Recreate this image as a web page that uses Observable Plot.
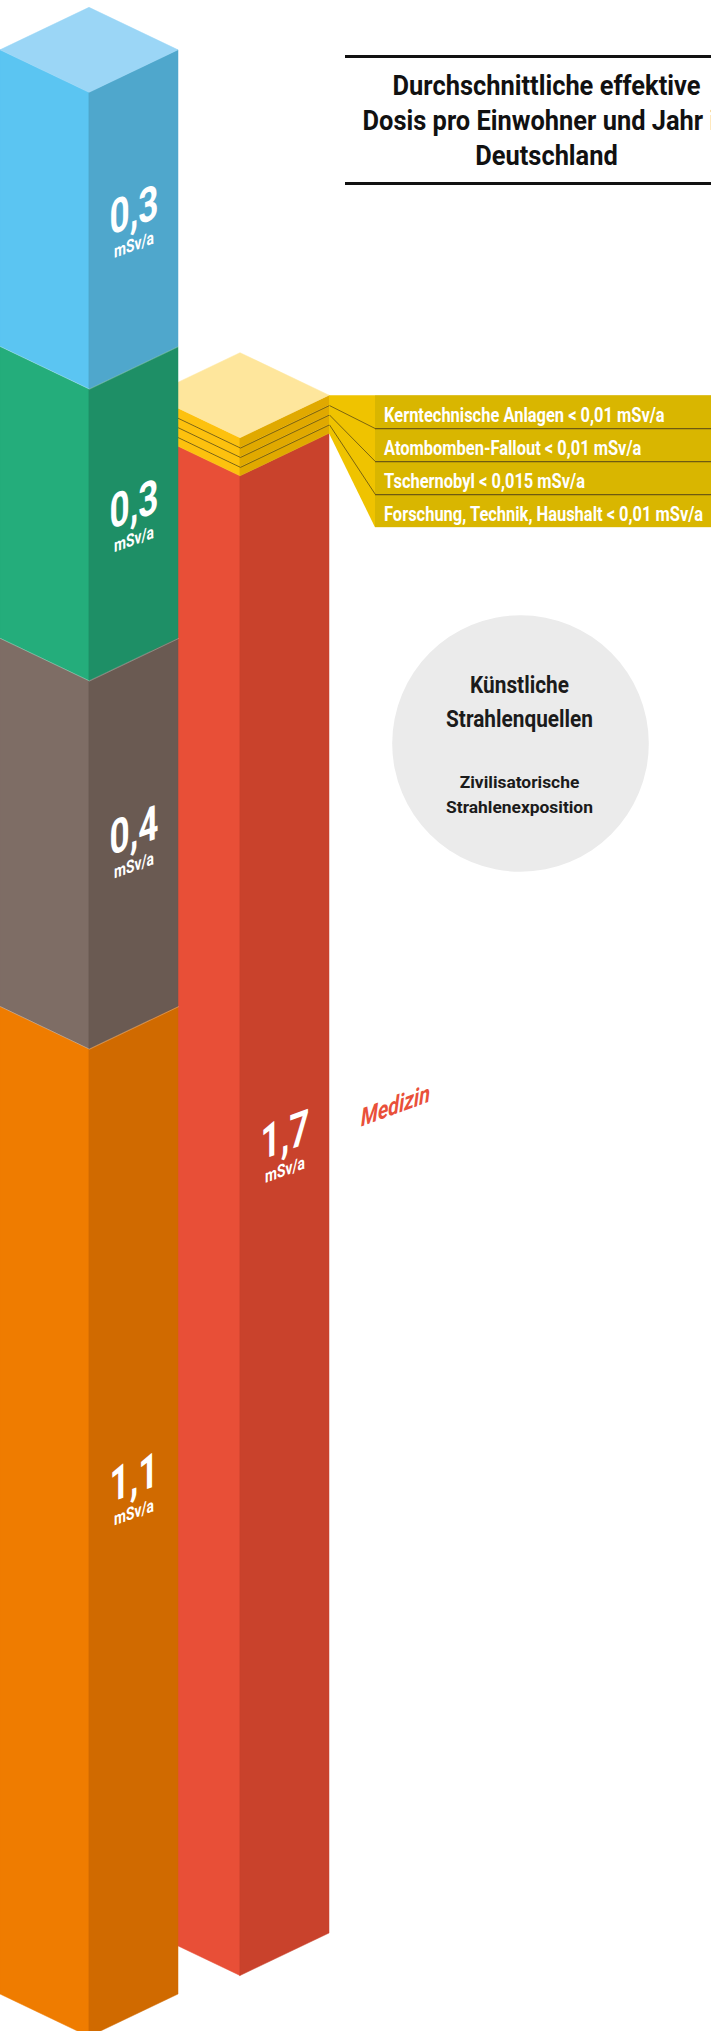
<!DOCTYPE html>
<html>
<head>
<meta charset="utf-8">
<script src="https://cdn.jsdelivr.net/npm/d3@7"></script>
<script src="https://cdn.jsdelivr.net/npm/@observablehq/plot@0.6"></script>
<style>
  html, body { margin: 0; padding: 0; overflow: hidden; background: #ffffff; }
  #chart svg { display: block; }
</style>
</head>
<body>
<div id="chart"></div>
<script>
// ---------------- DATA ----------------
// natural sources, left column, bottom -> top
const naturalSources = ["Radon", "Terrestrische Strahlung", "Nahrung", "Kosmische Strahlung"];
const naturalValues  = [1.10, 0.41, 0.325, 0.33];
const naturalLabels  = ["1,1", "0,4", "0,3", "0,3"];

// artificial sources, right column
const medicalSources = ["Medizin"];
const medicalValues  = [1.67];
const medicalLabels  = ["1,7"];

// thin layers on top of the medical column, bottom -> top
const minorSources = ["Forschung, Technik, Haushalt", "Tschernobyl", "Atombomben-Fallout", "Kerntechnische Anlagen"];
const minorValues  = [0.010, 0.011, 0.0105, 0.011];
const minorLimits  = ["< 0,01 mSv/a", "< 0,015 mSv/a", "< 0,01 mSv/a", "< 0,01 mSv/a"];

const unitLabel      = "mSv/a";
const titleLines     = ["Durchschnittliche effektive", "Dosis pro Einwohner und Jahr in", "Deutschland"];
const circleTitle    = ["Künstliche", "Strahlenquellen"];
const circleSubtitle = ["Zivilisatorische", "Strahlenexposition"];

// ---------------- STYLE / LAYOUT ----------------
const W = 711, H = 2031;
const PX_PER_MSV = 898;     // vertical scale
const BASE_PX = 1994;       // screen y of the front column base (side corners)
const HALF_W = 89, HALF_H = 42.5; // isometric half-width / half-height of a column
const leftCenter = 89, rightCenter = 240;
const backLiftPx = 61;      // the back column stands higher on screen
const FONT = "Roboto, 'Noto Sans', 'DejaVu Sans', sans-serif";
const naturalLeft  = ["#ef7c00", "#7e6d65", "#24ad7b", "#5bc5f2"];
const naturalRight = ["#d06a00", "#6a5a52", "#1e8f66", "#4fa7cc"];
const naturalTop = "#9bd6f6";
const medLeft = "#e84f37", medRight = "#c9422c";
const yLeft = "#fdc10e", yRight = "#e0a900", yTop = "#fee69c";
const leaderFill = "#efc300", boxFill = "#d9b600", lineColor = "#6e5a12";
const BOX_X = 375, ROW_H = 33;

const v  = px => px / PX_PER_MSV;               // pixel length -> value length
const pv = px => (BASE_PX - px) / PX_PER_MSV;    // screen y -> value
const hv = v(HALF_H);

// ---------------- GEOMETRY FROM DATA ----------------
function stack(values, base) {
  let c = base;
  return values.map(val => { const s = {v0: c, v1: c + val}; c += val; return s; });
}
function faceRows(prefix, xc, segs, lefts, rights) {
  const rows = [];
  segs.forEach((s, i) => {
    rows.push({id: prefix + i + "L", x: xc - HALF_W, y1: s.v0, y2: s.v1, fill: lefts[i]});
    rows.push({id: prefix + i + "L", x: xc, y1: s.v0 - hv, y2: s.v1 - hv, fill: lefts[i]});
    rows.push({id: prefix + i + "R", x: xc, y1: s.v0 - hv, y2: s.v1 - hv, fill: rights[i]});
    rows.push({id: prefix + i + "R", x: xc + HALF_W, y1: s.v0, y2: s.v1, fill: rights[i]});
  });
  return rows;
}
function topRows(id, xc, T, fill) {
  return [
    {id, x: xc - HALF_W, y1: T, y2: T, fill},
    {id, x: xc, y1: T - hv, y2: T + hv, fill},
    {id, x: xc + HALF_W, y1: T, y2: T, fill}
  ];
}

// front column (natural)
const segA = stack(naturalValues, 0);
const topA = segA[segA.length - 1].v1;
const facesA = faceRows("A", leftCenter, segA, naturalLeft, naturalRight)
  .concat(topRows("Atop", leftCenter, topA, naturalTop));
const seamsA = segA.slice(1).flatMap((s, i) => [
  {id: "s" + i, x: leftCenter - HALF_W, y: s.v0},
  {id: "s" + i, x: leftCenter, y: s.v0 - hv},
  {id: "s" + i, x: leftCenter + HALF_W, y: s.v0}
]);

// back column (medical + minor layers)
const baseB = v(backLiftPx);
const segMed = stack(medicalValues, baseB);
const medTop = segMed[segMed.length - 1].v1;
const segMinor = stack(minorValues, medTop);
const topB = segMinor[segMinor.length - 1].v1;
const facesB = faceRows("M", rightCenter, segMed, [medLeft], [medRight])
  .concat(faceRows("Y", rightCenter, segMinor, minorValues.map(() => yLeft), minorValues.map(() => yRight)))
  .concat(topRows("Btop", rightCenter, topB, yTop));
const layerLines = segMinor.slice(1).flatMap((s, i) => [
  {id: "l" + i, x: rightCenter - HALF_W, y: s.v0},
  {id: "l" + i, x: rightCenter, y: s.v0 - hv},
  {id: "l" + i, x: rightCenter + HALF_W, y: s.v0}
]);

// label box for minor layers (rows top -> bottom)
const nRows = minorSources.length;
const boxTop = topB, boxBottom = topB - v(ROW_H * nRows);
const leader = [
  {x: rightCenter + HALF_W, y1: medTop, y2: topB},
  {x: BOX_X, y1: boxBottom, y2: topB}
];
const rowLabels = minorSources.map((s, i) => ({s, text: s + " " + minorLimits[i]})).reverse()
  .map((d, r) => ({x: BOX_X + 8.5, y: boxTop - v(ROW_H * (r + 0.5)) - v(3), text: d.text}));
const rowSeps = d3.range(1, nRows).map(r => ({y: boxTop - v(ROW_H * r)}));
// leader lines: layer boundary (top layer first) -> row separator
const leaderLines = segMinor.slice(1).reverse().map((s, r) => ({
  x1: rightCenter + HALF_W, y1: s.v0, x2: BOX_X, y2: boxTop - v(ROW_H * (r + 1))
}));

// value labels on the right faces
const LABEL_FRAC = 0.45, LABEL_PAD = 6, UNIT_GAP = 34;
function valueLabel(xc, s, text) {
  const y = (s.v1 - hv / 2) - v(LABEL_PAD) - LABEL_FRAC * (s.v1 - s.v0);
  return {x: xc + HALF_W / 2, y, text};
}
const valueLabels = segA.map((s, i) => valueLabel(leftCenter, s, naturalLabels[i]))
  .concat(segMed.map((s, i) => valueLabel(rightCenter, s, medicalLabels[i])));
const unitLabels = valueLabels.map(d => ({x: d.x, y: d.y - v(UNIT_GAP), text: unitLabel}));
const medLabel = [{x: rightCenter + HALF_W + 66, y: valueLabels[valueLabels.length - 1].y + v(30), text: medicalSources[0]}];

// title + circle
const titleRows = titleLines.map((t, i) => ({x: 546, y: pv(86 + 35 * i), text: t}));
const circleRows = [
  {x: 519, y: pv(685), text: circleTitle[0], g: "big"},
  {x: 519, y: pv(718.5), text: circleTitle[1], g: "big"},
  {x: 519, y: pv(782.5), text: circleSubtitle[0], g: "small"},
  {x: 519, y: pv(807.5), text: circleSubtitle[1], g: "small"}
];

// ---------------- PLOT ----------------
const svg = Plot.plot({
  width: W, height: H, margin: 0,
  style: {background: "#ffffff", overflow: "hidden"},
  x: {domain: [0, W], range: [0, W], axis: null},
  y: {domain: [(BASE_PX - H) / PX_PER_MSV, BASE_PX / PX_PER_MSV], range: [H, 0], axis: null},
  color: {type: "identity"},
  marks: [
    // back column
    Plot.areaY(facesB, {x: "x", y1: "y1", y2: "y2", z: "id", fill: "fill", stroke: "fill", strokeWidth: 0.5}),
    Plot.line(layerLines, {x: "x", y: "y", z: "id", stroke: lineColor, strokeWidth: 0.9}),
    // label box
    Plot.areaY(leader, {x: "x", y1: "y1", y2: "y2", fill: leaderFill}),
    Plot.rect([{x1: BOX_X, x2: W + 10, y1: boxBottom, y2: boxTop}], {x1: "x1", x2: "x2", y1: "y1", y2: "y2", fill: boxFill}),
    Plot.link(leaderLines, {x1: "x1", y1: "y1", x2: "x2", y2: "y2", stroke: lineColor, strokeWidth: 0.9}),
    Plot.ruleY(rowSeps, {y: "y", x1: BOX_X, x2: W + 10, stroke: lineColor, strokeWidth: 1.2}),
    Plot.text(rowLabels, {x: "x", y: "y", text: "text", textAnchor: "start", fill: "#ffffff",
      fontSize: 20, fontWeight: "bold", fontFamily: FONT}),
    // front column
    Plot.areaY(facesA, {x: "x", y1: "y1", y2: "y2", z: "id", fill: "fill", stroke: "fill", strokeWidth: 0.5}),
    Plot.line(seamsA, {x: "x", y: "y", z: "id", stroke: "#ffffff", strokeOpacity: 0.35, strokeWidth: 0.8}),
    // value labels
    Plot.text(valueLabels, {x: "x", y: "y", text: "text", fill: "#ffffff", fontSize: 48,
      fontWeight: "bold", fontFamily: FONT}),
    Plot.text(unitLabels, {x: "x", y: "y", text: "text", fill: "#ffffff", fontSize: 18,
      fontWeight: "bold", fontFamily: FONT}),
    Plot.text(medLabel, {x: "x", y: "y", text: "text", fill: "#e9503a", fontSize: 25,
      fontWeight: "bold", fontStyle: "italic", fontFamily: FONT}),
    // title
    Plot.ruleY([pv(56), pv(183)], {x1: 345, x2: W + 10, stroke: "#111111", strokeWidth: 3}),
    Plot.text(titleRows, {x: "x", y: "y", text: "text", fill: "#111111", fontSize: 27,
      fontWeight: "bold", fontFamily: FONT}),
    // circle
    Plot.dot([{x: 520, y: pv(743)}], {x: "x", y: "y", r: 128.3, fill: "#ebebeb", stroke: null}),
    Plot.text(circleRows.filter(d => d.g === "big"), {x: "x", y: "y", text: "text", fill: "#1b1b1b",
      fontSize: 24, fontWeight: "bold", fontFamily: FONT}),
    Plot.text(circleRows.filter(d => d.g === "small"), {x: "x", y: "y", text: "text", fill: "#1b1b1b",
      fontSize: 17, fontWeight: "bold", fontFamily: FONT})
  ]
});

// condensed look: fit reference strings to measured widths, skew face labels
const ctx = document.createElement("canvas").getContext("2d");
function measure(str, font) { ctx.font = font; return ctx.measureText(str).width; }
const fits = [
  {texts: titleLines, font: "bold 27px " + FONT, ref: titleLines[0], target: 308},
  {texts: rowLabels.map(d => d.text), font: "bold 20px " + FONT, ref: minorSources[0] + " " + minorLimits[0], target: 320},
  {texts: circleTitle, font: "bold 24px " + FONT, ref: circleTitle[1], target: 147},
  {texts: circleSubtitle, font: "bold 17px " + FONT, ref: circleSubtitle[1], target: 147},
  {texts: valueLabels.map(d => d.text), font: "bold 48px " + FONT, ref: "0,4", target: 49, skew: -20},
  {texts: [unitLabel], font: "bold 18px " + FONT, ref: unitLabel, target: 40, skew: -20},
  {texts: medicalSources, font: "italic bold 25px " + FONT, ref: medicalSources[0], target: 69, skew: -20}
];
fits.forEach(f => { f.sx = f.target / measure(f.ref, f.font); });
svg.querySelectorAll("text").forEach(t => {
  const content = t.textContent.trim();
  const f = fits.find(f => f.texts.includes(content));
  if (!f) return;
  let tr = t.getAttribute("transform");
  if (!tr) {
    tr = `translate(${t.getAttribute("x") || 0},${t.getAttribute("y") || 0})`;
    t.removeAttribute("x"); t.removeAttribute("y");
  }
  t.setAttribute("transform", tr + (f.skew ? ` skewY(${f.skew})` : "") + ` scale(${f.sx.toFixed(4)},1)`);
});
document.getElementById("chart").appendChild(svg);
</script>
</body>
</html>
